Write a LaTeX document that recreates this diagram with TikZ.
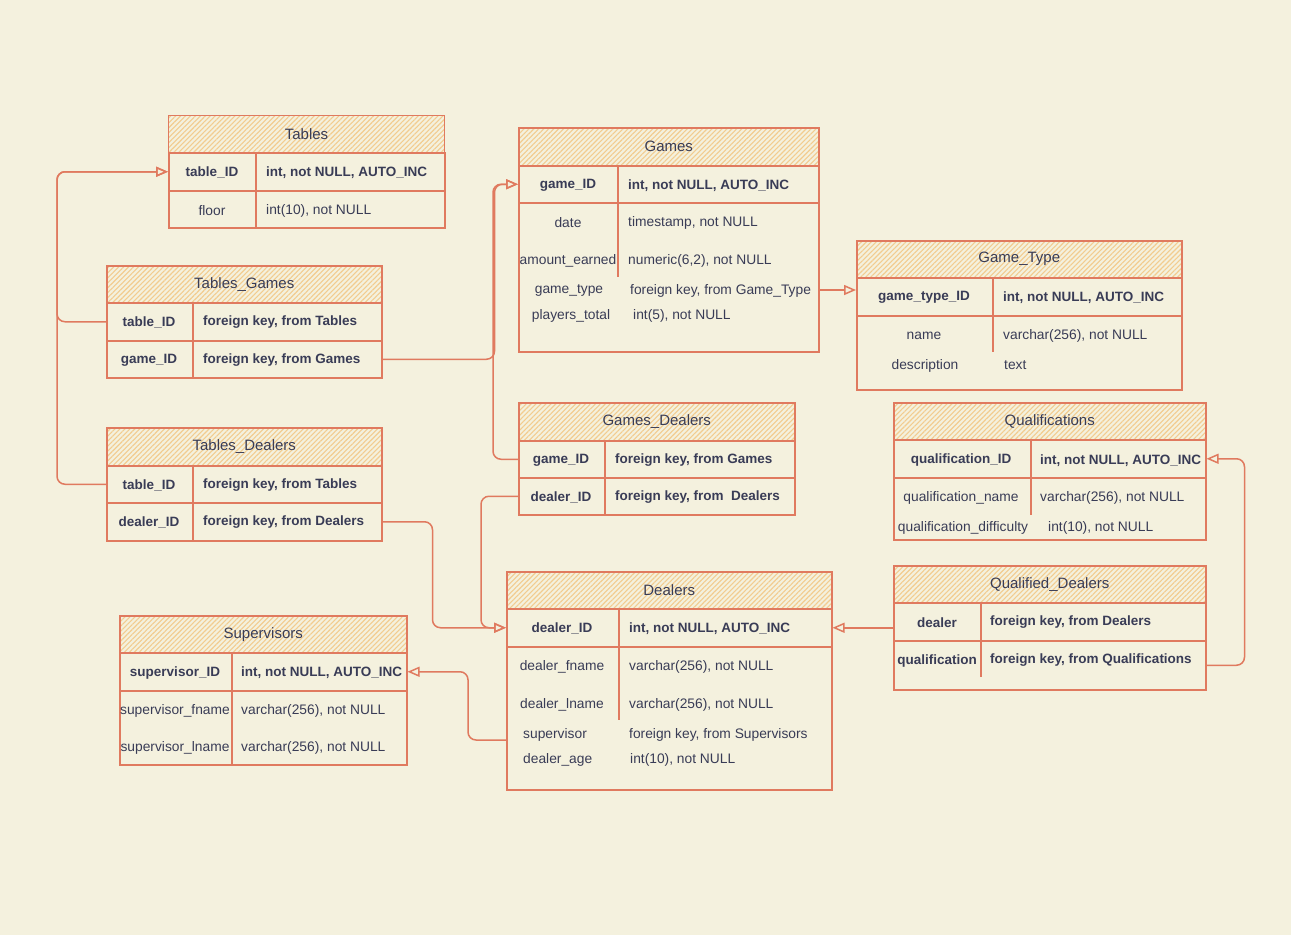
\documentclass[tikz,border=0pt]{standalone}
\usepackage{fontspec}
\setmainfont{Liberation Sans}
\usetikzlibrary{arrows.meta,patterns.meta}
\definecolor{paper}{HTML}{F4F1DE}
\definecolor{edge}{HTML}{E07A5F}
\definecolor{hatch}{HTML}{F2CC8F}
\definecolor{ink}{HTML}{393C56}

\tikzset{
 hdr/.style={draw=edge, line width=1.5pt, anchor=north west, minimum height=37pt, inner sep=0pt,
  text=ink, font=\fontsize{15}{18}\selectfont,
  pattern={Lines[angle=45,distance=3.5pt,line width=1.1pt]}, pattern color=hatch},
 row/.style={draw=edge, line width=1.5pt, anchor=north west, minimum height=38pt, inner sep=0pt},
 freerow/.style={anchor=west, minimum height=14pt, inner sep=0pt},
 pk/.style={text=ink, inner sep=0pt, yshift=-1.5pt, font=\fontsize{13.5}{16}\selectfont\bfseries},
 fld/.style={text=ink, inner sep=0pt, yshift=-1.5pt, font=\fontsize{13.8}{16}\selectfont},
 sep/.style={draw=edge, line width=1.5pt},
 fk/.style={draw=edge, line width=1.5pt, rounded corners=8pt, -{Triangle[open,length=12pt,width=10pt]}}
}

\begin{document}
\begin{tikzpicture}[x=1pt, y=-1pt]
\useasboundingbox (0,0) rectangle (1291,935);
\fill[paper] (0,0) rectangle (1291,935);

% Tables
\node[hdr, minimum width=276pt] (t) at (168,115) {Tables};
\node[row, minimum width=276pt] (t-r1) at (168,152) {};
\node[row, minimum width=276pt, minimum height=37pt] (t-r2) at (168,190) {};
\draw[sep] (256,152) -- (256,227);
\node[pk] (t-f1) at (212,171) {table\_ID};
\node[pk, anchor=west] (t-d1) at (266,171) {int, not NULL, AUTO\_INC};
\node[fld] (t-f2) at (212,209) {floor};
\node[fld, anchor=west] (t-d2) at (266,209) {int(10), not NULL};

% Games
\node[hdr, minimum width=300pt, minimum height=38pt] (g) at (518,127) {Games};
\node[row, minimum width=300pt, minimum height=37pt] (g-r1) at (518,165) {};
\node[row, minimum width=300pt, minimum height=149pt] (g-body) at (518,202) {};
\node[freerow, minimum width=300pt] (g-gtype) at (518,290) {};
\draw[sep] (618,165) -- (618,277);
\node[pk] (g-f1) at (568,184) {game\_ID};
\node[pk, anchor=west] (g-d1) at (628,184) {int, not NULL, AUTO\_INC};
\node[fld] (g-f2) at (568,221) {date};
\node[fld, anchor=west] (g-d2) at (628,221) {timestamp, not NULL};
\node[fld] (g-f3) at (568,259) {amount\_earned};
\node[fld, anchor=west] (g-d3) at (628,259) {numeric(6,2), not NULL};
\node[fld] (g-f4) at (569,289) {game\_type};
\node[fld, anchor=west] (g-d4) at (630,289) {foreign key, from Game\_Type};
\node[fld] (g-f5) at (571,314) {players\_total};
\node[fld, anchor=west] (g-d5) at (633,314) {int(5), not NULL};

% Game_Type
\node[hdr, minimum width=325pt] (gt) at (856,240) {Game\_Type};
\node[row, minimum width=325pt] (gt-r1) at (856,277) {};
\node[row, minimum width=325pt, minimum height=74pt] (gt-body) at (856,315) {};
\draw[sep] (993,277) -- (993,352);
\node[pk] (gt-f1) at (924,296) {game\_type\_ID};
\node[pk, anchor=west] (gt-d1) at (1003,296) {int, not NULL, AUTO\_INC};
\node[fld] (gt-f2) at (924,334) {name};
\node[fld, anchor=west] (gt-d2) at (1003,334) {varchar(256), not NULL};
\node[fld] (gt-f3) at (925,364) {description};
\node[fld, anchor=west] (gt-d3) at (1004,364) {text};

% Tables_Games
\node[hdr, minimum width=275pt] (tg) at (106,265) {Tables\_Games};
\node[row, minimum width=275pt] (tg-r1) at (106,302) {};
\node[row, minimum width=275pt, minimum height=37pt] (tg-r2) at (106,340) {};
\draw[sep] (193,302) -- (193,377);
\node[pk] (tg-f1) at (149,321) {table\_ID};
\node[pk, anchor=west] (tg-d1) at (203,321) {foreign key, from Tables};
\node[pk] (tg-f2) at (149,359) {game\_ID};
\node[pk, anchor=west] (tg-d2) at (203,359) {foreign key, from Games};

% Tables_Dealers
\node[hdr, minimum width=275pt, minimum height=38pt] (td) at (106,427) {Tables\_Dealers};
\node[row, minimum width=275pt, minimum height=37pt] (td-r1) at (106,465) {};
\node[row, minimum width=275pt] (td-r2) at (106,502) {};
\draw[sep] (193,465) -- (193,540);
\node[pk] (td-f1) at (149,484) {table\_ID};
\node[pk, anchor=west] (td-d1) at (203,484) {foreign key, from Tables};
\node[pk] (td-f2) at (149,521) {dealer\_ID};
\node[pk, anchor=west] (td-d2) at (203,521) {foreign key, from Dealers};

% Games_Dealers
\node[hdr, minimum width=276pt, minimum height=38pt] (gd) at (518,402) {Games\_Dealers};
\node[row, minimum width=276pt, minimum height=37pt] (gd-r1) at (518,440) {};
\node[row, minimum width=276pt, minimum height=37pt] (gd-r2) at (518,477) {};
\draw[sep] (605,440) -- (605,514);
\node[pk] (gd-f1) at (561,459) {game\_ID};
\node[pk, anchor=west] (gd-d1) at (615,459) {foreign key, from Games};
\node[pk] (gd-f2) at (561,496) {dealer\_ID};
\node[pk, anchor=west] (gd-d2) at (615,496) {foreign key, from~ Dealers};

% Qualifications
\node[hdr, minimum width=312pt] (q) at (893,402) {Qualifications};
\node[row, minimum width=312pt] (q-r1) at (893,439) {};
\node[row, minimum width=312pt, minimum height=62pt] (q-body) at (893,477) {};
\draw[sep] (1031,439) -- (1031,515);
\node[pk] (q-f1) at (961,459) {qualification\_ID};
\node[pk, anchor=west] (q-d1) at (1040,459) {int, not NULL, AUTO\_INC};
\node[fld] (q-f2) at (961,496) {qualification\_name};
\node[fld, anchor=west] (q-d2) at (1040,496) {varchar(256), not NULL};
\node[fld] (q-f3) at (963,526) {qualification\_difficulty};
\node[fld, anchor=west] (q-d3) at (1048,526) {int(10), not NULL};

% Qualified_Dealers
\node[hdr, minimum width=312pt] (qd) at (893,565) {Qualified\_Dealers};
\node[row, minimum width=312pt] (qd-r1) at (893,602) {};
\node[row, minimum width=312pt, minimum height=49pt] (qd-r2) at (893,640) {};
\draw[sep] (981,602) -- (981,677);
\node[pk] (qd-f1) at (937,621) {dealer};
\node[pk, anchor=west] (qd-d1) at (990,621) {foreign key, from Dealers};
\node[pk] (qd-f2) at (937,659) {qualification};
\node[pk, anchor=west] (qd-d2) at (990,659) {foreign key, from Qualifications};

% Dealers
\node[hdr, minimum width=325pt] (d) at (506,571) {Dealers};
\node[row, minimum width=325pt] (d-r1) at (506,608) {};
\node[row, minimum width=325pt, minimum height=143pt] (d-body) at (506,646) {};
\node[freerow, minimum width=325pt] (d-sup) at (506,740) {};
\draw[sep] (619,608) -- (619,720);
\node[pk] (d-f1) at (562,627) {dealer\_ID};
\node[pk, anchor=west] (d-d1) at (629,627) {int, not NULL, AUTO\_INC};
\node[fld] (d-f2) at (562,665) {dealer\_fname};
\node[fld, anchor=west] (d-d2) at (629,665) {varchar(256), not NULL};
\node[fld] (d-f3) at (562,703) {dealer\_lname};
\node[fld, anchor=west] (d-d3) at (629,703) {varchar(256), not NULL};
\node[fld, anchor=west] (d-f4) at (523,733) {supervisor};
\node[fld, anchor=west] (d-d4) at (629,733) {foreign key, from Supervisors};
\node[fld, anchor=west] (d-f5) at (523,758) {dealer\_age};
\node[fld, anchor=west] (d-d5) at (630,758) {int(10), not NULL};

% Supervisors
\node[hdr, minimum width=287pt] (s) at (119,615) {Supervisors};
\node[row, minimum width=287pt] (s-r1) at (119,652) {};
\node[row, minimum width=287pt, minimum height=74pt] (s-body) at (119,690) {};
\draw[sep] (232,652) -- (232,764);
\node[pk] (s-f1) at (175,671) {supervisor\_ID};
\node[pk, anchor=west] (s-d1) at (241,671) {int, not NULL, AUTO\_INC};
\node[fld] (s-f2) at (175,709) {supervisor\_fname};
\node[fld, anchor=west] (s-d2) at (241,709) {varchar(256), not NULL};
\node[fld] (s-f3) at (175,746) {supervisor\_lname};
\node[fld, anchor=west] (s-d3) at (241,746) {varchar(256), not NULL};

% foreign keys
\draw[fk] (tg-r1.west) -- ++(-49,0) |- (t-r1.west);
\draw[fk] (td-r1.west) -- ++(-49,0) |- (t-r1.west);
\draw[fk] (tg-r2.east) -- ++(112,0) |- (g-r1.west);
\draw[fk] (gd-r1.west) -- ++(-25,0) |- (g-r1.west);
\draw[fk] (g-gtype.east) -- (g-gtype.east -| gt-r1.west);
\draw[fk] (td-r2.east) -- ++(50,0) |- (d-r1.west);
\draw[fk] (gd-r2.west) -- ++(-37,0) |- (d-r1.west);
\draw[fk] (qd-r1.west |- d-r1.east) -- (d-r1.east);
\draw[fk] (qd-r2.east) -- ++(38,0) |- (q-r1.east);
\draw[fk] (d-sup.west) -- ++(-38,0) |- (s-r1.east);
\end{tikzpicture}
\end{document}
